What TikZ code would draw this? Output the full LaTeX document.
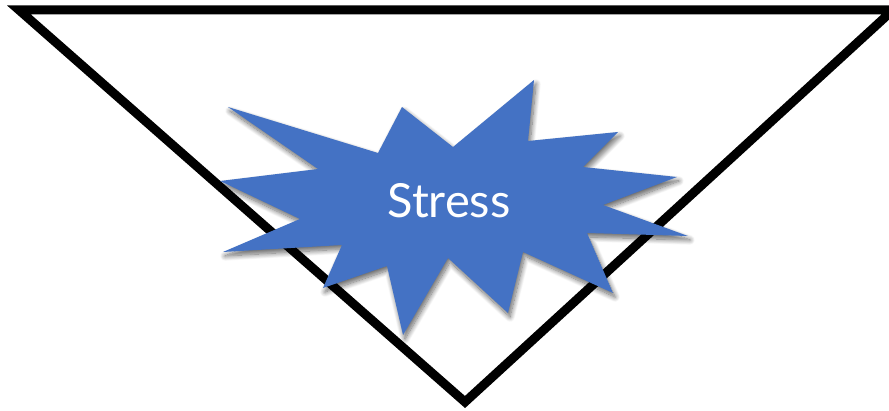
\documentclass[tikz,border=0pt]{standalone}
\usepackage{fontspec}
\setmainfont{Lato}
\usepackage{xcolor}
\usepackage{tikz}
\usetikzlibrary{positioning, shadows.blur}

\definecolor{burstblue}{HTML}{4472C4}

\begin{document}
\begin{tikzpicture}[x=1pt, y=-1pt,
    funnel/.style={draw=black, line width=9pt, miter limit=20},
    burst/.style={fill=burstblue, blur shadow={shadow xshift=2pt, shadow yshift=-4pt, shadow blur radius=5pt, shadow blur steps=12, shadow opacity=60}}]
        \useasboundingbox (0,0) rectangle (889,411);
        \clip (0,0) rectangle (889,411);

        % triangle
        \draw[funnel] (19,10) -- (893,10) -- (465,402) -- cycle;

        % burst
        \fill[burst] (228,107) -- (378,153) -- (402,107) -- (453,147) -- (534,80) -- (528,141)
          -- (618,132) -- (583,167) -- (677,177) -- (603,205) -- (688,236) -- (587,233)
          -- (613,293) -- (523,252) -- (508,313) -- (448,258) -- (403,335) -- (387,266)
          -- (323,288) -- (342,245) -- (223,252) -- (300,219) -- (220,181) -- (318,169) -- cycle;

        \node[text=white, font=\fontsize{47}{52}\selectfont] (stress) at (449,201) {Stress};
      \end{tikzpicture}
\end{document}
